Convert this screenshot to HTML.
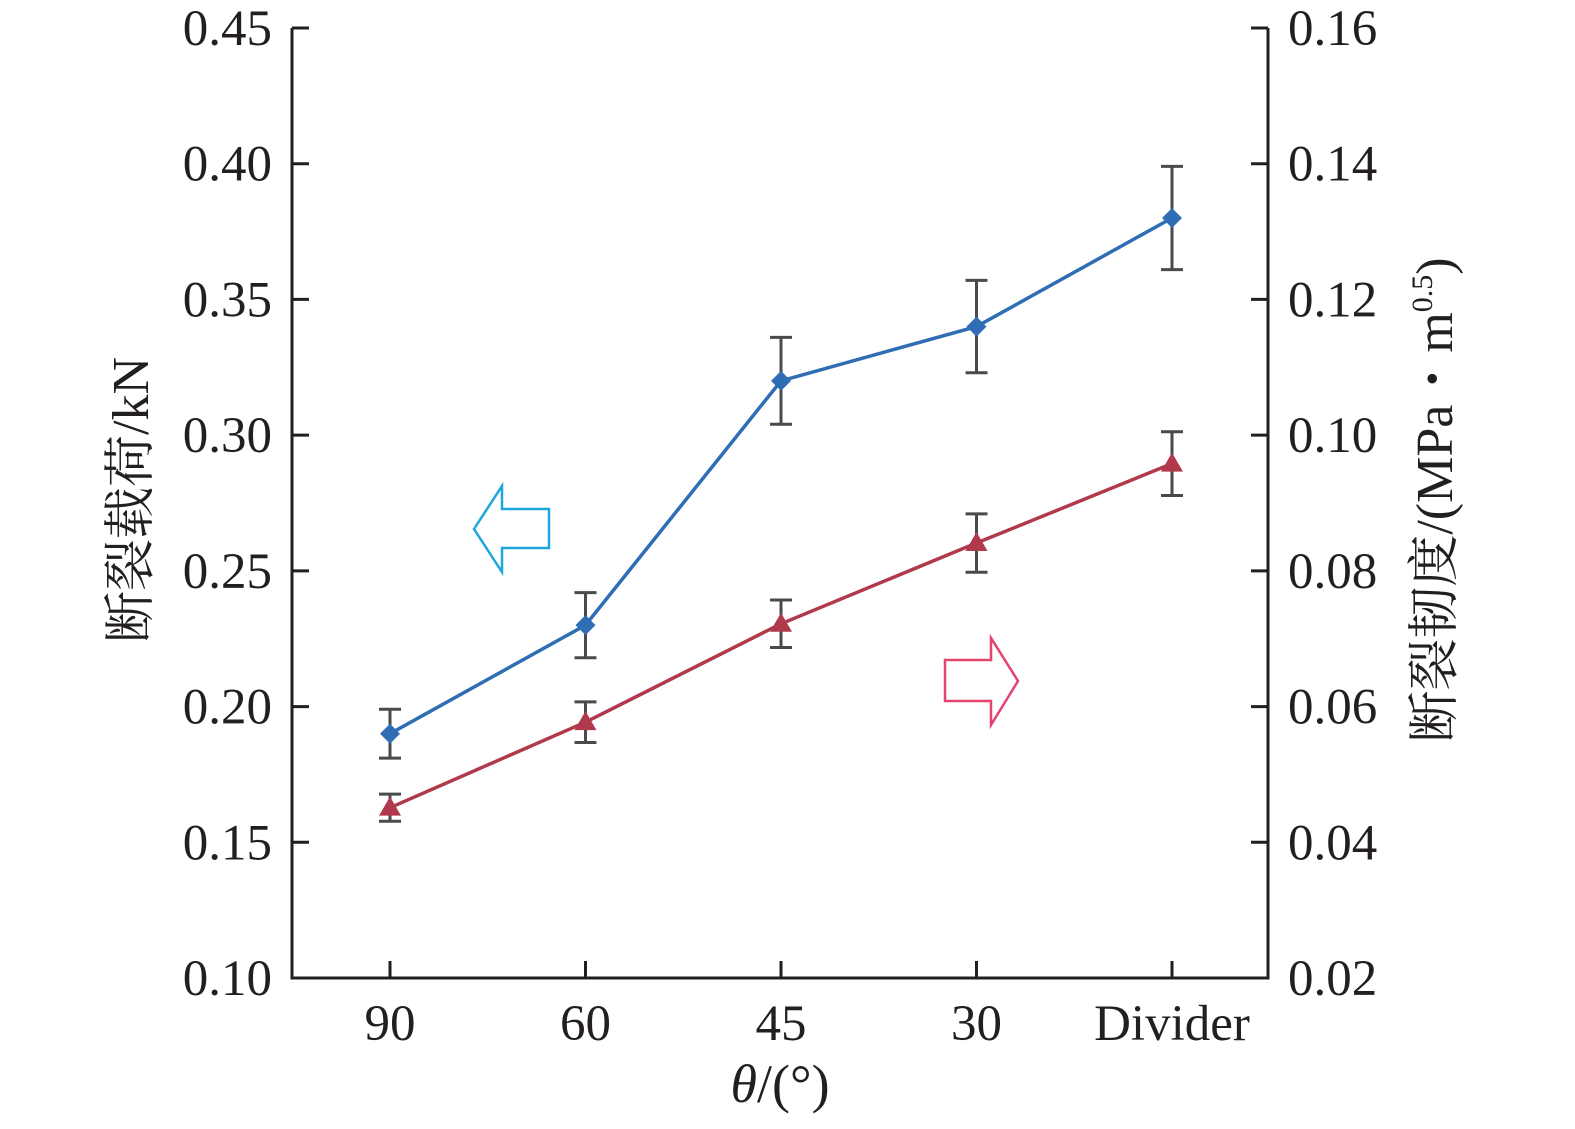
<!DOCTYPE html>
<html><head><meta charset="utf-8"><style>
body{margin:0;background:#fff}
svg text{font-family:"Liberation Serif","Noto Serif CJK SC",serif;fill:#231f20}
</style></head><body>
<svg id="chart" width="1575" height="1124" xmlns="http://www.w3.org/2000/svg">
<g id="axes"></g>
<g id="marks"></g>
<text transform="translate(148,500) rotate(-90)" text-anchor="middle" font-size="52">断裂载荷/kN</text>
<text transform="translate(1452,500) rotate(-90)" text-anchor="middle" font-size="52">断裂韧度/(MPa・m<tspan font-size="30" dy="-20">0.5</tspan><tspan dy="20">)</tspan></text>
<text x="780" y="1102" text-anchor="middle" font-size="54"><tspan font-style="italic">θ</tspan>/(°)</text>
<path d="M474,529 L502,486 L502,509 L549,509 L549,548 L502,548 L502,572 Z" fill="none" stroke="#1ea6df" stroke-width="2.5"/>
<path d="M1018,681 L991,638 L991,660 L945,660 L945,701 L991,701 L991,725 Z" fill="none" stroke="#e5426e" stroke-width="2.5"/>
</svg>
<script>
const categories=["90","60","45","30","Divider"];
const loadValues=[0.19,0.23,0.32,0.34,0.38];
const loadErrors=[0.009,0.012,0.016,0.017,0.019];
const toughValues=[0.0451,0.0577,0.0722,0.0841,0.0958];
const toughErrors=[0.002,0.003,0.0035,0.0043,0.0047];
const leftTicks=["0.10","0.15","0.20","0.25","0.30","0.35","0.40","0.45"];
const rightTicks=["0.02","0.04","0.06","0.08","0.10","0.12","0.14","0.16"];
const NS="http://www.w3.org/2000/svg";
const X0=292,X1=1268,TOP=28,BOT=978;
const xPos=i=>390+i*195.5;
const yL=v=>BOT-(v-0.10)/(0.45-0.10)*(BOT-TOP);
const yR=v=>BOT-(v-0.02)/(0.16-0.02)*(BOT-TOP);
function mk(tag,attrs,parent,text){const e=document.createElementNS(NS,tag);for(const k in attrs)e.setAttribute(k,attrs[k]);if(text!==undefined)e.textContent=text;parent.appendChild(e);return e;}
const axes=document.getElementById('axes'),marks=document.getElementById('marks');
let e;
e=mk('path',{d:`M${X0},${TOP} V${BOT} H${X1} V${TOP}`,fill:'none',stroke:'#231f20','stroke-width':3},axes);


leftTicks.forEach(t=>{const y=yL(+t);
 e=mk('line',{x1:X0,x2:X0+17,y1:y,y2:y,stroke:'#231f20','stroke-width':3},axes);
 
 
 e=mk('text',{x:272,y:y+17,'text-anchor':'end','font-size':51},axes,t);
 
 });
rightTicks.forEach(t=>{const y=yR(+t);
 e=mk('line',{x1:X1-17,x2:X1,y1:y,y2:y,stroke:'#231f20','stroke-width':3},axes);
 
 
 e=mk('text',{x:1288,y:y+17,'font-size':51},axes,t);
 
 });
categories.forEach((c,i)=>{const x=xPos(i);
 e=mk('line',{x1:x,x2:x,y1:BOT-17,y2:BOT,stroke:'#231f20','stroke-width':3},axes);
 
 
 e=mk('text',{x:x,y:1040,'text-anchor':'middle','font-size':51},axes,c);
 
 });
function series(vals,errs,yf,color,name,marker){
 e=mk('polyline',{points:vals.map((v,i)=>xPos(i)+','+yf(v)).join(' '),fill:'none',stroke:color,'stroke-width':3.5},marks);
 
 
 vals.forEach((v,i)=>{const x=xPos(i),y1=yf(v+errs[i]),y2=yf(v-errs[i]);
  e=mk('path',{d:`M${x-11},${y1} H${x+11} M${x},${y1} V${y2} M${x-11},${y2} H${x+11}`,stroke:'#4a4a4c','stroke-width':3,fill:'none'},marks);
  
  
  const y=yf(v);
  const d=marker==='diamond'?`M${x},${y-10} L${x+10},${y} L${x},${y+10} L${x-10},${y} Z`:`M${x},${y-11} L${x+11},${y+8} L${x-11},${y+8} Z`;
  e=mk('path',{d:d,fill:color},marks);
  
  });
}
series(loadValues,loadErrors,yL,'#2f6db5','load','diamond');
series(toughValues,toughErrors,yR,'#b03a4c','toughness','triangle');
</script>
</body></html>
